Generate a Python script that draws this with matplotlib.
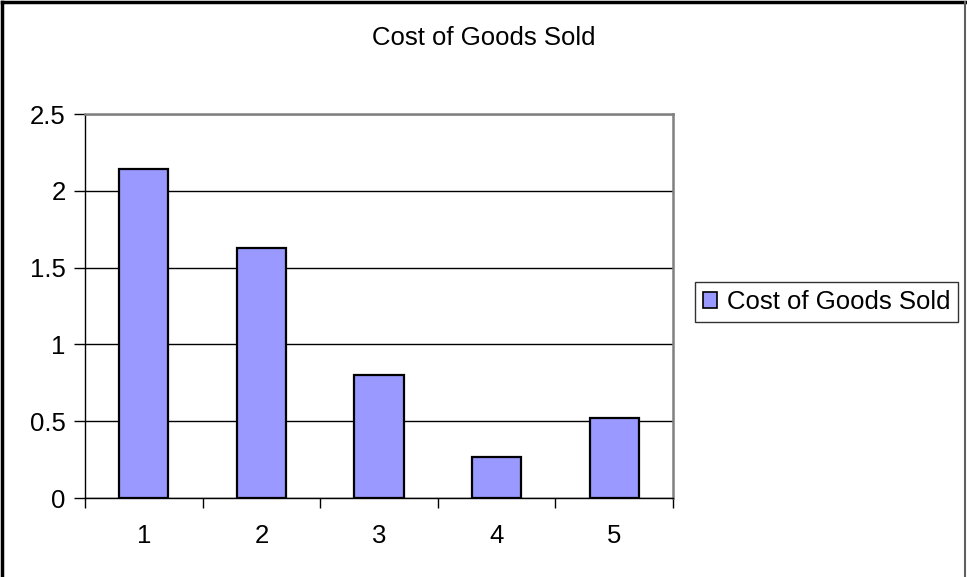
import matplotlib.pyplot as plt
from matplotlib.lines import Line2D

plt.rcParams['font.family'] = ['Liberation Sans', 'DejaVu Sans']

# Cost of goods sold by period
periods = ['1', '2', '3', '4', '5']
cogs = [2.14, 1.63, 0.80, 0.27, 0.52]
y_ticks = [0, 0.5, 1, 1.5, 2, 2.5]
y_labels = ['0', '0.5', '1', '1.5', '2', '2.5']

bar_color = '#9999FF'
fs = 18.5

fig = plt.figure(figsize=(9.67, 5.77), dpi=100)
ax = fig.add_axes([85 / 967, 1 - 498 / 577, (673 - 85) / 967, (498 - 114) / 577])

x = list(range(len(periods)))
ax.bar(x, cogs, width=0.42, color=bar_color, edgecolor='black', linewidth=1.6,
       label='Cost of Goods Sold', zorder=3)

ax.set_xlim(-0.5, len(periods) - 0.5)
ax.set_ylim(0, 2.5)
ax.set_yticks(y_ticks)
ax.set_yticklabels(y_labels, fontsize=fs)
ax.yaxis.grid(True, color='black', linewidth=1.0, zorder=0)

# category labels in the middle, tick marks on the boundaries
ax.set_xticks(x)
ax.set_xticklabels(periods, fontsize=fs)
ax.tick_params(axis='x', length=0, pad=19)
ax.set_xticks([i - 0.5 for i in range(len(periods) + 1)], minor=True)
ax.tick_params(axis='x', which='minor', length=7, width=1.0, direction='out')
ax.tick_params(axis='y', length=8, width=1.0, direction='out', pad=6)

for side in ['top', 'right']:
    ax.spines[side].set_color('#808080')
    ax.spines[side].set_linewidth(1.8)
for side in ['left', 'bottom']:
    ax.spines[side].set_color('black')
    ax.spines[side].set_linewidth(1.0)

fig.text(0.5, 1 - 38 / 577, 'Cost of Goods Sold', ha='center', va='center', fontsize=fs)

leg = fig.legend(loc='center left', bbox_to_anchor=(695 / 967, 1 - 302 / 577),
                 fontsize=fs, frameon=True, fancybox=False, shadow=False,
                 handlelength=0.55, handleheight=0.55, handletextpad=0.4,
                 borderpad=0.3, borderaxespad=0)
leg.get_frame().set_edgecolor('black')
leg.get_frame().set_linewidth(1.0)
for h in leg.legend_handles:
    h.set_linewidth(1.2)

# chart frame
fig.add_artist(Line2D([2 / 967, 2 / 967], [0, 1 - 2 / 577], color='black', linewidth=2.5))
fig.add_artist(Line2D([2 / 967, 965 / 967], [1 - 2 / 577, 1 - 2 / 577], color='black', linewidth=2.5))
fig.add_artist(Line2D([965 / 967, 965 / 967], [0, 1 - 2 / 577], color='#606060', linewidth=1.5))

fig.savefig('out.png', dpi=100)
